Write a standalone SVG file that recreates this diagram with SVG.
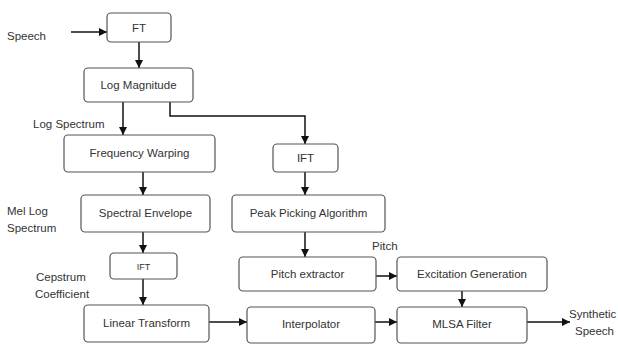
<svg xmlns="http://www.w3.org/2000/svg" width="618" height="348" viewBox="0 0 618 348">
<defs>
<marker id="ah" viewBox="0 0 10 10" refX="10" refY="5" markerWidth="8" markerHeight="8" markerUnits="userSpaceOnUse" orient="auto"><path d="M0,0 L10,5 L0,10 z" fill="#111"/></marker>
<style>
rect{fill:#fff;stroke:#555;stroke-width:1.2}
text{font-family:"Liberation Sans",Arial,sans-serif;font-size:11.5px;fill:#333}
.c{text-anchor:middle}
#connectors path{fill:none;stroke:#111;stroke-width:1.5;marker-end:url(#ah)}
</style>
</defs>
<rect x="0" y="0" width="618" height="348" style="fill:#fff;stroke:none"/>
<g id="connectors">
<path d="M71,32 H107"/>
<path d="M139,42 V68"/>
<path d="M123,102 V135"/>
<path d="M170,102 V116 H305 V144"/>
<path d="M143,172 V195"/>
<path d="M143,232 V253"/>
<path d="M143,279 V305"/>
<path d="M209,322 H247"/>
<path d="M305,172 V195"/>
<path d="M305,232 V257"/>
<path d="M376,276 H397"/>
<path d="M462,291 V307"/>
<path d="M375,322 H397"/>
<path d="M527,322 H570"/>
</g>
<g id="ft"><rect x="107" y="13" width="64" height="29" rx="4"/><text class="c" x="139" y="32">FT</text></g>
<g id="logmag"><rect x="84" y="68" width="109" height="34" rx="4"/><text class="c" x="138.5" y="89">Log Magnitude</text></g>
<g id="freqwarp"><rect x="64" y="135" width="151" height="37" rx="4"/><text class="c" x="139.5" y="157">Frequency Warping</text></g>
<g id="ift2"><rect x="273" y="144" width="65" height="28" rx="4"/><text class="c" x="305.5" y="162">IFT</text></g>
<g id="specenv"><rect x="81" y="195" width="129" height="37" rx="4"/><text class="c" x="145.5" y="217">Spectral Envelope</text></g>
<g id="peak"><rect x="232" y="195" width="153" height="37" rx="4"/><text class="c" x="308.5" y="217">Peak Picking Algorithm</text></g>
<g id="ift1"><rect x="110" y="253" width="67" height="26" rx="4"/><text class="c" x="143.5" y="270" style="font-size:9px">IFT</text></g>
<g id="pitchext"><rect x="239" y="257" width="137" height="34" rx="4"/><text class="c" x="307.5" y="278">Pitch extractor</text></g>
<g id="excit"><rect x="397" y="257" width="150" height="34" rx="4"/><text class="c" x="472" y="278">Excitation Generation</text></g>
<g id="lintrans"><rect x="84" y="305" width="125" height="37" rx="4"/><text class="c" x="146.5" y="327">Linear Transform</text></g>
<g id="interp"><rect x="247" y="307" width="128" height="36" rx="4"/><text class="c" x="311" y="328">Interpolator</text></g>
<g id="mlsa"><rect x="397" y="307" width="130" height="36" rx="4"/><text class="c" x="462" y="328">MLSA Filter</text></g>
<g id="labels">
<text x="7" y="40">Speech</text>
<text x="33" y="128">Log Spectrum</text>
<text x="7" y="215">Mel Log</text>
<text x="7" y="232">Spectrum</text>
<text x="36" y="281">Cepstrum</text>
<text x="35" y="298">Coefficient</text>
<text x="372" y="250">Pitch</text>
<text x="569" y="318">Synthetic</text>
<text x="575" y="335">Speech</text>
</g>
</svg>
